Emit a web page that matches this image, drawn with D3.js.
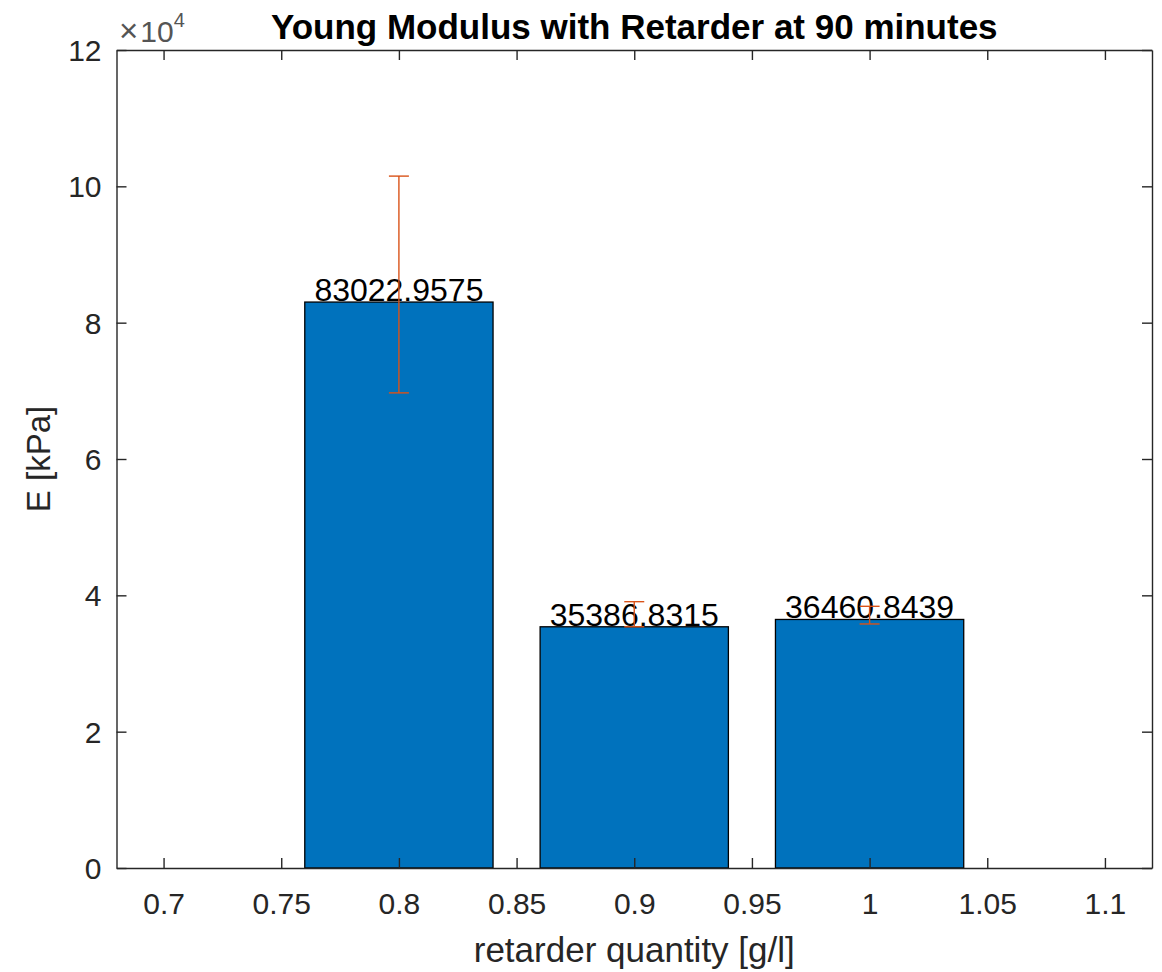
<!DOCTYPE html>
<html>
<head>
<meta charset="utf-8">
<script src="https://cdn.jsdelivr.net/npm/d3@7"></script>
<style>
  html, body { margin: 0; padding: 0; background: #ffffff; }
  svg { display: block; font-family: "Liberation Sans", Arial, Helvetica, sans-serif; }
</style>
</head>
<body>
<svg id="chart" width="1162" height="972"></svg>
<script>
// Retarder quantities [g/l] and mean Young modulus [kPa]
const quantities = [0.8, 0.9, 1.0];
const modulus = [83022.9575, 35386.8315, 36460.8439];
// Error bar extents [kPa]
const errLow = [69700, 35390, 35800];
const errHigh = [101500, 39070, 38390];

const xTicks = [0.7, 0.75, 0.8, 0.85, 0.9, 0.95, 1.0, 1.05, 1.1];
const yTicks = [0, 20000, 40000, 60000, 80000, 100000, 120000];

const titleText = "Young Modulus with Retarder at 90 minutes";
const xLabelText = "retarder quantity [g/l]";
const yLabelText = "E [kPa]";

const svg = d3.select("#chart");
const margin = { left: 116.5, right: 1152, top: 50, bottom: 868 };

const x = d3.scaleLinear().domain([0.68, 1.12]).range([margin.left, margin.right]);
const y = d3.scaleLinear().domain([0, 120000]).range([margin.bottom, margin.top]);

const axisColor = "#262626";
const barWidth = 0.08;

// Bars
svg.append("g").selectAll("rect")
  .data(quantities)
  .join("rect")
  .attr("x", (d) => x(d - barWidth / 2))
  .attr("width", (d) => x(d + barWidth / 2) - x(d - barWidth / 2))
  .attr("y", (d, i) => y(modulus[i]))
  .attr("height", (d, i) => y(0) - y(modulus[i]))
  .attr("fill", "#0072BD")
  .attr("stroke", "#000000")
  .attr("stroke-width", 1.3);

// Value labels
svg.append("g").selectAll("text")
  .data(quantities)
  .join("text")
  .attr("x", (d) => x(d))
  .attr("y", (d, i) => y(modulus[i]) - 1)
  .attr("text-anchor", "middle")
  .attr("font-size", 32)
  .attr("fill", "#000000")
  .text((d, i) => modulus[i].toFixed(4));

// Error bars
const capHalf = 10;
const eb = svg.append("g").attr("stroke", "#D95319").attr("stroke-width", 1.4);
quantities.forEach((q, i) => {
  const cx = x(q);
  eb.append("line").attr("x1", cx).attr("x2", cx).attr("y1", y(errLow[i])).attr("y2", y(errHigh[i]));
  eb.append("line").attr("x1", cx - capHalf).attr("x2", cx + capHalf).attr("y1", y(errLow[i])).attr("y2", y(errLow[i]));
  eb.append("line").attr("x1", cx - capHalf).attr("x2", cx + capHalf).attr("y1", y(errHigh[i])).attr("y2", y(errHigh[i]));
});

// Axes with inward ticks on all four sides
const tickLen = 10;
const fmtX = (d) => String(+d.toFixed(2));
const fmtY = (d) => String(d / 10000);

const gx = svg.append("g").attr("transform", `translate(0,${margin.bottom})`)
  .call(d3.axisBottom(x).tickValues(xTicks).tickSizeInner(-tickLen).tickSizeOuter(0).tickPadding(25).tickFormat(fmtX));
const gxTop = svg.append("g").attr("transform", `translate(0,${margin.top})`)
  .call(d3.axisTop(x).tickValues(xTicks).tickSizeInner(-tickLen).tickSizeOuter(0).tickFormat(""));
const gy = svg.append("g").attr("transform", `translate(${margin.left},0)`)
  .call(d3.axisLeft(y).tickValues(yTicks).tickSizeInner(-tickLen).tickSizeOuter(0).tickPadding(15).tickFormat(fmtY));
const gyRight = svg.append("g").attr("transform", `translate(${margin.right},0)`)
  .call(d3.axisRight(y).tickValues(yTicks).tickSizeInner(-tickLen).tickSizeOuter(0).tickFormat(""));

[gx, gxTop, gy, gyRight].forEach((g) => {
  g.select(".domain").attr("stroke", axisColor).attr("stroke-width", 1.4);
  g.selectAll(".tick line").attr("stroke", axisColor).attr("stroke-width", 1.4);
  g.selectAll(".tick text").attr("fill", axisColor).attr("font-size", 30).attr("font-family", null);
});
gx.selectAll(".tick text").attr("y", 25).attr("dy", "0.71em");
gy.selectAll(".tick text").attr("dy", "0.35em");

// Exponent marker above the y axis
const expo = svg.append("text")
  .attr("x", 119)
  .attr("y", 42)
  .attr("fill", "#555555")
  .attr("font-size", 30);
expo.append("tspan").attr("font-size", 33).text("\u00D7");
expo.append("tspan").attr("dx", 2).text("10");
expo.append("tspan").attr("font-size", 20).attr("dy", -15).text("4");

// Title
svg.append("text")
  .attr("x", (margin.left + margin.right) / 2)
  .attr("y", 39)
  .attr("text-anchor", "middle")
  .attr("font-size", 35)
  .attr("font-weight", "bold")
  .attr("fill", "#000000")
  .text(titleText);

// Axis labels
svg.append("text")
  .attr("x", (margin.left + margin.right) / 2)
  .attr("y", 962)
  .attr("text-anchor", "middle")
  .attr("font-size", 35)
  .attr("fill", axisColor)
  .text(xLabelText);

svg.append("text")
  .attr("transform", `translate(50,${(margin.top + margin.bottom) / 2}) rotate(-90)`)
  .attr("text-anchor", "middle")
  .attr("font-size", 33)
  .attr("fill", axisColor)
  .text(yLabelText);
</script>
</body>
</html>
